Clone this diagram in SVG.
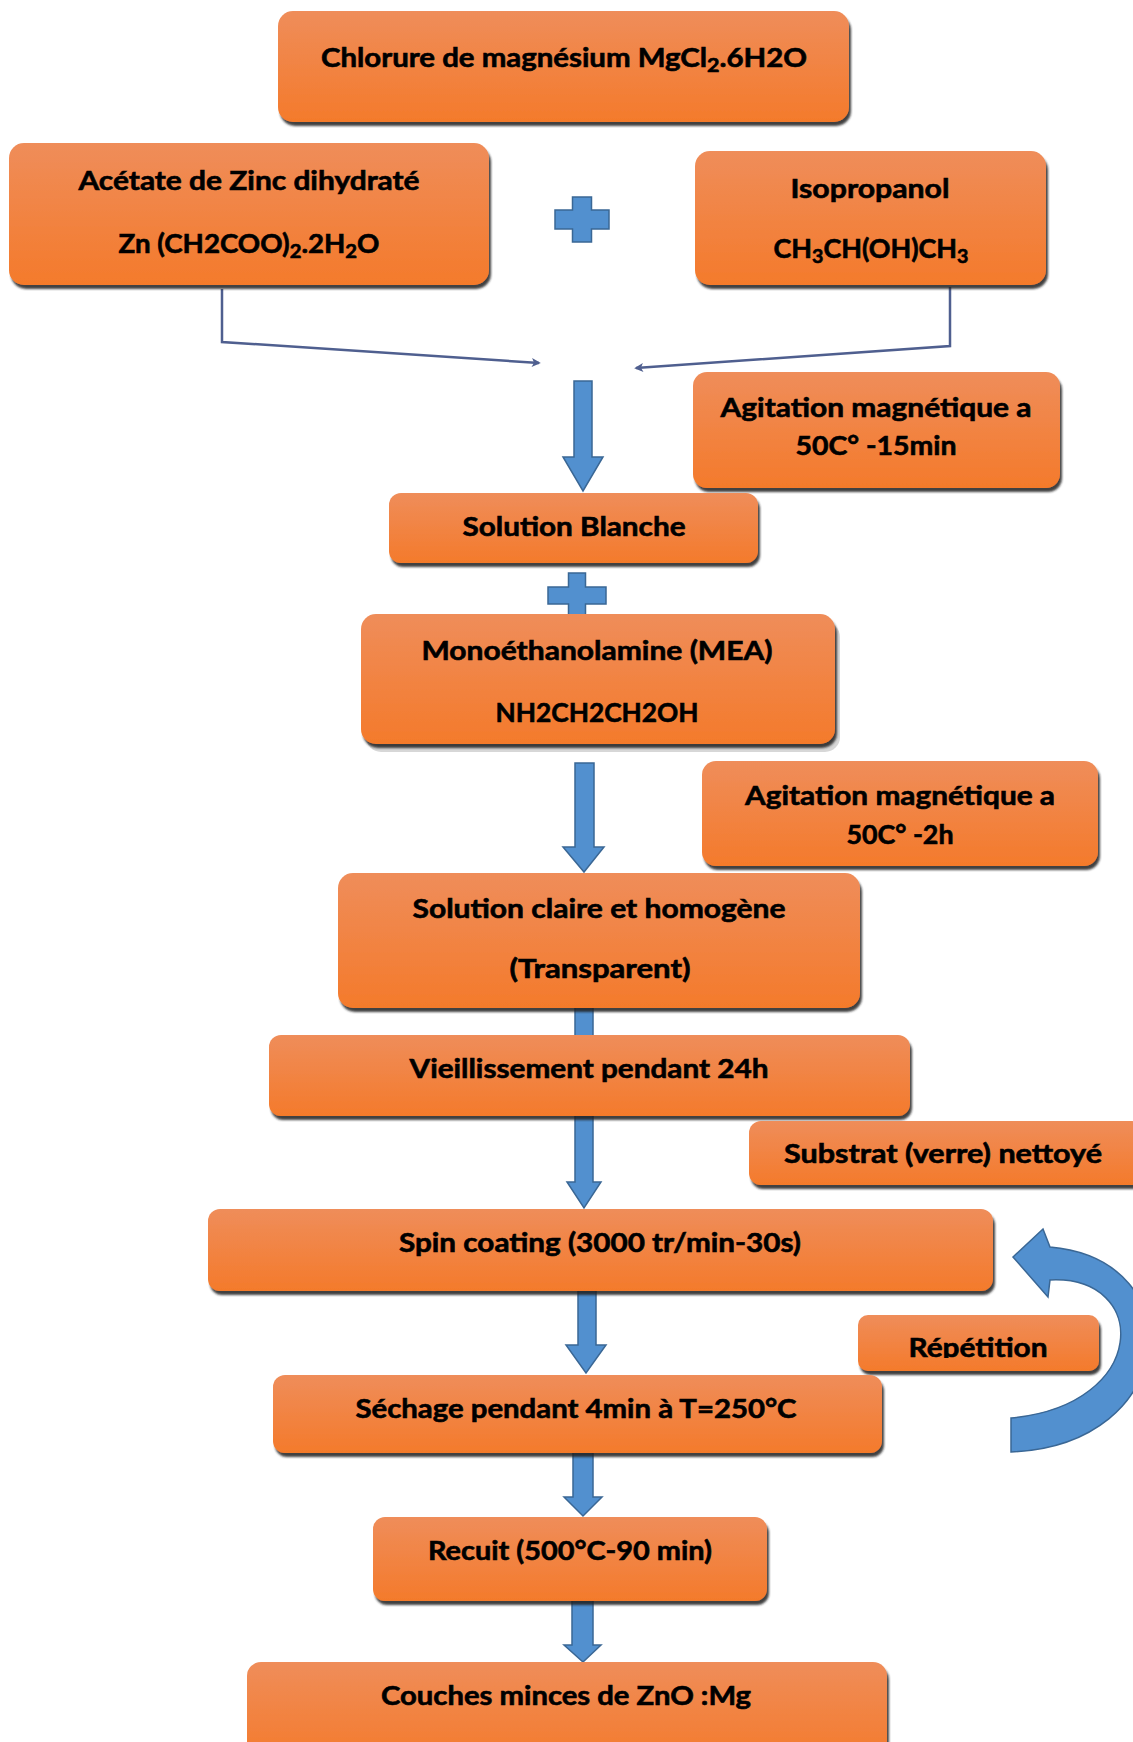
<svg xmlns="http://www.w3.org/2000/svg" width="1133" height="1742" viewBox="0 0 1133 1742">
<defs>
<linearGradient id="og" x1="0" y1="0" x2="0" y2="1">
<stop offset="0" stop-color="#ef8d5a"/>
<stop offset="1" stop-color="#f47a2b"/>
</linearGradient>
<filter id="sh" x="-5%" y="-10%" width="112%" height="135%">
<feDropShadow dx="2" dy="4" stdDeviation="1.2" flood-color="#1e1e1e" flood-opacity="0.85"/>
</filter>
<marker id="ah" viewBox="0 0 10 10" refX="8" refY="5" markerWidth="11" markerHeight="9" orient="auto-start-reverse" markerUnits="userSpaceOnUse">
<path d="M0,0 L10,5 L0,10 L2.5,5 z" fill="#4f5f8f"/>
</marker>
<clipPath id="repclip"><rect x="850" y="1300" width="260" height="58"/></clipPath>
<style>
.box{fill:url(#og);filter:url(#sh);}
.t{font-family:Lato,"Liberation Sans",sans-serif;font-weight:700;font-size:26px;fill:#000;stroke:#000;stroke-width:0.6px;text-anchor:middle;}
.thin{fill:none;stroke:#4f5f8f;stroke-width:2.5;}
.blk{fill:#5290cf;stroke:#3a6795;stroke-width:1.5;}
</style>
</defs>
<rect width="1133" height="1742" fill="#fff"/>

<g id="connectors">
<path class="thin" d="M222,289 L222,342 L539,363" marker-end="url(#ah)"/>
<path class="thin" d="M950,287 L950,346 L636,368" marker-end="url(#ah)"/>
<path class="blk" d="M574,381 L592,381 L592,457 L603,457 L583,491 L563,457 L574,457 Z"/>
<path class="blk" d="M575,763 L594,763 L594,847 L604,847 L584,872 L563,847 L575,847 Z"/>
<rect class="blk" x="575" y="1000" width="18" height="40"/>
<path class="blk" d="M575,1114 L593,1114 L593,1182 L601,1182 L584,1208 L567,1182 L575,1182 Z"/>
<path class="blk" d="M578,1290 L596,1290 L596,1345 L606,1345 L586,1373 L566,1345 L578,1345 Z"/>
<path class="blk" d="M573,1450 L593,1450 L593,1497 L602,1497 L583,1516 L564,1497 L573,1497 Z"/>
<path class="blk" d="M572,1598 L593,1598 L593,1645 L601,1645 L583,1662 L564,1645 L572,1645 Z"/>
<path class="blk" d="M1011,1452 C1180,1445 1195,1260 1050,1247 L1043,1229 L1013,1257 L1048,1297 L1050,1280 C1150,1275 1150,1405 1011,1418 Z"/>
</g>

<g id="plus-signs">
<path class="blk" d="M572.5,197 L591.5,197 L591.5,210 L609,210 L609,229 L591.5,229 L591.5,242 L572.5,242 L572.5,229 L555,229 L555,210 L572.5,210 Z"/>
<path class="blk" d="M568.5,573 L585.5,573 L585.5,587 L606,587 L606,604 L585.5,604 L585.5,618 L568.5,618 L568.5,604 L548,604 L548,587 L568.5,587 Z"/>
</g>

<g id="n-chlorure">
<rect class="box" x="278" y="11" width="571" height="111" rx="15"/>
<text class="t" x="564" y="67" textLength="486" lengthAdjust="spacingAndGlyphs">Chlorure de magnésium MgCl<tspan font-size="19" dy="5">2</tspan><tspan dy="-5">.6H2O</tspan></text>
</g>
<g id="n-acetate">
<rect class="box" x="9" y="143" width="480" height="142" rx="15"/>
<text class="t" x="249" y="190" textLength="341" lengthAdjust="spacingAndGlyphs">Acétate de Zinc dihydraté</text>
<text class="t" x="249" y="253" textLength="261" lengthAdjust="spacingAndGlyphs">Zn (CH2COO)<tspan font-size="19" dy="5">2</tspan><tspan dy="-5">.2H</tspan><tspan font-size="19" dy="5">2</tspan><tspan dy="-5">O</tspan></text>
</g>
<g id="n-isopropanol">
<rect class="box" x="695" y="151" width="351" height="134" rx="15"/>
<text class="t" x="870" y="198" textLength="159" lengthAdjust="spacingAndGlyphs">Isopropanol</text>
<text class="t" x="871" y="258" textLength="195" lengthAdjust="spacingAndGlyphs">CH<tspan font-size="19" dy="5">3</tspan><tspan dy="-5">CH(OH)CH</tspan><tspan font-size="19" dy="5">3</tspan></text>
</g>
<g id="n-agitation1">
<rect class="box" x="693" y="372" width="367" height="116" rx="14"/>
<text class="t" x="876" y="417" textLength="311" lengthAdjust="spacingAndGlyphs">Agitation magnétique a</text>
<text class="t" x="876" y="455" textLength="161" lengthAdjust="spacingAndGlyphs">50C° -15min</text>
</g>
<g id="n-solution-blanche">
<rect class="box" x="389" y="493" width="369" height="70" rx="12"/>
<text class="t" x="574" y="536" textLength="223" lengthAdjust="spacingAndGlyphs">Solution Blanche</text>
</g>
<g id="n-mea">
<rect x="366" y="622" width="474" height="130" rx="15" fill="#bdbdbd" opacity="0.6"/>
<rect class="box" x="361" y="614" width="474" height="130" rx="15"/>
<text class="t" x="597" y="660" textLength="351" lengthAdjust="spacingAndGlyphs">Monoéthanolamine (MEA)</text>
<text class="t" x="597" y="722" textLength="203" lengthAdjust="spacingAndGlyphs">NH2CH2CH2OH</text>
</g>
<g id="n-agitation2">
<rect class="box" x="702" y="761" width="396" height="105" rx="14"/>
<text class="t" x="900" y="805" textLength="310" lengthAdjust="spacingAndGlyphs">Agitation magnétique a</text>
<text class="t" x="900" y="844" textLength="107" lengthAdjust="spacingAndGlyphs">50C° -2h</text>
</g>
<g id="n-solution-claire">
<rect class="box" x="338" y="873" width="522" height="135" rx="15"/>
<text class="t" x="599" y="918" textLength="373" lengthAdjust="spacingAndGlyphs">Solution claire et homogène</text>
<text class="t" x="600" y="978" textLength="181" lengthAdjust="spacingAndGlyphs">(Transparent)</text>
</g>
<g id="n-vieillissement">
<rect class="box" x="269" y="1035" width="641" height="81" rx="12"/>
<text class="t" x="589" y="1078" textLength="359" lengthAdjust="spacingAndGlyphs">Vieillissement pendant 24h</text>
</g>
<g id="n-substrat">
<rect class="box" x="749" y="1121" width="395" height="64" rx="12"/>
<text class="t" x="943" y="1163" textLength="318" lengthAdjust="spacingAndGlyphs">Substrat (verre) nettoyé</text>
</g>
<g id="n-spin">
<rect class="box" x="208" y="1209" width="785" height="82" rx="12"/>
<text class="t" x="600" y="1252" textLength="402" lengthAdjust="spacingAndGlyphs">Spin coating (3000 tr/min-30s)</text>
</g>
<g id="n-repetition">
<rect class="box" x="858" y="1315" width="241" height="56" rx="10"/>
<text class="t" x="978" y="1357" textLength="139" lengthAdjust="spacingAndGlyphs" clip-path="url(#repclip)">Répétition</text>
</g>
<g id="n-sechage">
<rect class="box" x="273" y="1375" width="609" height="78" rx="12"/>
<text class="t" x="576" y="1418" textLength="441" lengthAdjust="spacingAndGlyphs">Séchage pendant 4min à T=250°C</text>
</g>
<g id="n-recuit">
<rect class="box" x="373" y="1517" width="394" height="84" rx="12"/>
<text class="t" x="570" y="1560" textLength="284" lengthAdjust="spacingAndGlyphs">Recuit (500°C-90 min)</text>
</g>
<g id="n-couches">
<rect class="box" x="247" y="1662" width="640" height="100" rx="14"/>
<text class="t" x="566" y="1705" textLength="370" lengthAdjust="spacingAndGlyphs">Couches minces de ZnO :Mg</text>
</g>
</svg>
